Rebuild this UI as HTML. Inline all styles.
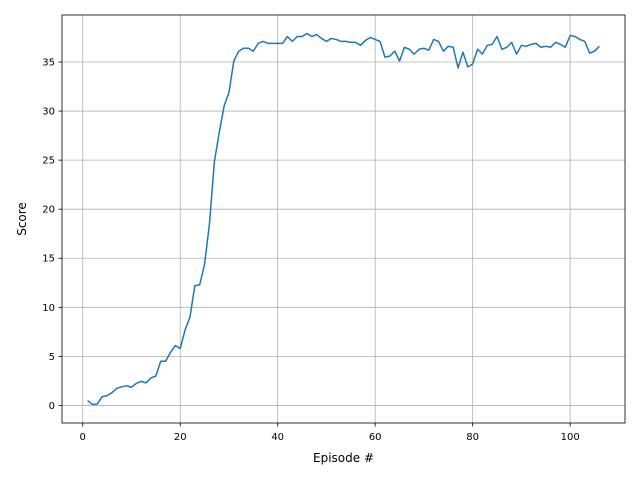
<!DOCTYPE html>
<html><head><meta charset="utf-8"><style>
body{margin:0;background:#fff;}
svg{display:block;font-family:"DejaVu Sans","Liberation Sans",sans-serif;}
</style></head><body>
<svg id="chart" width="640" height="480" xmlns="http://www.w3.org/2000/svg">
<rect width="640" height="480" fill="#fff"/>
<g id="grid"></g>
<g id="ticks"></g>
<path id="line" fill="none" stroke="#1f77b4" stroke-width="1.5" stroke-linejoin="round"/>
<rect x="62" y="15" width="563" height="408" fill="none" stroke="#000" stroke-width="0.8"/>
<text x="343.5" y="462" font-size="12" text-anchor="middle">Episode #</text>
<text x="0" y="0" font-size="12" text-anchor="middle" transform="translate(26,219) rotate(-90)">Score</text>
</svg>
<script>
const scores=[0.5,0.1,0.15,0.9,1.0,1.3,1.75,1.9,2.0,1.85,2.25,2.45,2.3,2.8,3.0,4.5,4.5,5.4,6.1,5.8,7.7,9.0,12.2,12.3,14.4,18.5,24.8,27.8,30.5,31.9,35.1,36.1,36.4,36.4,36.1,36.9,37.1,36.9,36.9,36.9,36.9,37.6,37.1,37.6,37.6,37.9,37.6,37.8,37.4,37.1,37.4,37.3,37.1,37.1,37.0,37.0,36.7,37.2,37.5,37.3,37.1,35.5,35.6,36.1,35.1,36.5,36.3,35.8,36.3,36.4,36.2,37.3,37.1,36.1,36.6,36.5,34.4,36.0,34.5,34.8,36.3,35.8,36.7,36.8,37.6,36.3,36.5,37.0,35.8,36.7,36.6,36.8,36.9,36.5,36.6,36.5,37.0,36.8,36.5,37.7,37.6,37.3,37.1,35.9,36.1,36.6];
const xTicks=[0,20,40,60,80,100];
const yTicks=[0,5,10,15,20,25,30,35];
const L=62,R=625,T=15,B=423;
const n=scores.length, xm=(n-1)*0.05;
const xmin=1-xm, xmax=n+xm;
const lo=Math.min(...scores), hi=Math.max(...scores), ym=(hi-lo)*0.05;
const ymin=lo-ym, ymax=hi+ym;
const sx=v=>L+(v-xmin)/(xmax-xmin)*(R-L);
const sy=v=>B-(v-ymin)/(ymax-ymin)*(B-T);
const NS="http://www.w3.org/2000/svg";
const grid=document.getElementById('grid'), ticks=document.getElementById('ticks');
function mk(tag,attrs,parent){const e=document.createElementNS(NS,tag);for(const k in attrs)e.setAttribute(k,attrs[k]);parent.appendChild(e);return e;}
xTicks.forEach(t=>{const x=sx(t);
 const g=mk('line',{x1:x,x2:x,y1:T,y2:B,stroke:'#b0b0b0','stroke-width':0.8},grid);
 
 
 mk('line',{x1:x,x2:x,y1:B,y2:B+3.5,stroke:'#000','stroke-width':0.8},ticks);
 const tx=mk('text',{x:x,y:B+17,'font-size':10,'text-anchor':'middle'},ticks);tx.textContent=t;
 
 
});
yTicks.forEach(t=>{const y=sy(t);
 const g=mk('line',{x1:L,x2:R,y1:y,y2:y,stroke:'#b0b0b0','stroke-width':0.8},grid);
 
 
 mk('line',{x1:L-3.5,x2:L,y1:y,y2:y,stroke:'#000','stroke-width':0.8},ticks);
 const tx=mk('text',{x:L-7,y:y+3.5,'font-size':10,'text-anchor':'end'},ticks);tx.textContent=t;
 
 
});
document.getElementById('line').setAttribute('d',scores.map((v,i)=>(i?'L':'M')+sx(i+1).toFixed(2)+','+sy(v).toFixed(2)).join(''));
</script>
</body></html>
